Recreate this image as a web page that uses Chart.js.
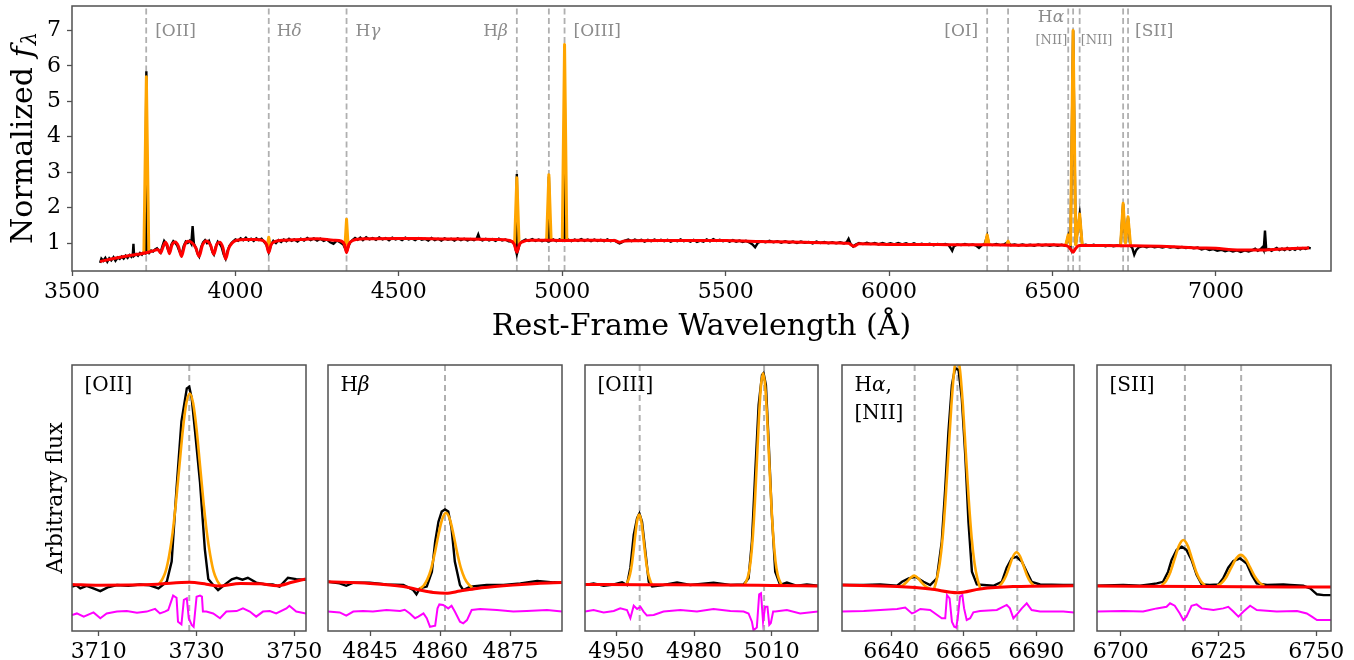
<!DOCTYPE html>
<html>
<head>
<meta charset="utf-8">
<script src="https://cdn.jsdelivr.net/npm/chart.js@4.4.0/dist/chart.umd.min.js"></script>
<style>
  body { margin: 0; background: #fff; }
  #wrap { position: relative; width: 1354px; height: 660px; overflow: hidden; }
  .box { position: absolute; }
</style>
</head>
<body>
<div id="wrap"></div>
<script>
// ---------- full spectrum (top panel) ----------
const topTicksX = [3500, 4000, 4500, 5000, 5500, 6000, 6500, 7000];
const topTicksY = [1, 2, 3, 4, 5, 6, 7];
const topLines = [3727, 4102, 4340, 4861, 4959, 5007, 6300, 6364, 6548, 6563, 6583, 6716, 6731];

const topObs = [
  [3586,0.44],[3590,0.56],[3596,0.50],[3602,0.58],[3608,0.47],[3614,0.57],[3620,0.51],[3627,0.60],[3633,0.50],[3640,0.59],
  [3646,0.55],[3652,0.62],[3658,0.56],[3664,0.64],[3670,0.58],[3676,0.66],[3682,0.61],[3686,0.68],[3688,0.98],[3690,0.64],
  [3696,0.69],[3702,0.64],[3708,0.72],[3714,0.67],[3720,0.75],[3724,0.72],[3727.5,5.85],[3731,0.80],[3736,0.72],[3742,0.79],
  [3748,0.76],[3754,0.82],[3760,0.85],[3766,0.78],[3771,0.73],[3777,0.92],[3782,1.06],[3788,0.98],[3794,0.80],[3798,0.74],
  [3804,0.95],[3810,1.05],[3816,1.00],[3822,0.93],[3828,0.78],[3835,0.66],[3842,0.92],[3848,1.04],[3854,1.00],[3860,1.06],
  [3865,0.98],[3869,1.48],[3873,0.98],[3879,0.86],[3884,0.70],[3889,0.62],[3895,0.88],[3901,1.02],[3907,1.08],[3913,1.00],
  [3919,1.06],[3925,0.90],[3930,0.74],[3934,0.68],[3940,0.90],[3946,1.04],[3952,0.98],[3958,0.88],[3964,0.68],[3970,0.56],
  [3976,0.78],[3982,0.92],[3988,1.00],[3994,1.05],[4000,1.10],[4008,1.06],[4016,1.13],[4024,1.08],[4032,1.15],[4040,1.07],
  [4048,1.12],[4056,1.06],[4064,1.13],[4072,1.08],[4080,1.12],[4088,1.03],[4095,0.95],[4102,0.74],[4109,0.95],[4116,1.06],
  [4124,1.00],[4132,1.08],[4140,1.03],[4148,1.10],[4156,1.05],[4164,1.12],[4172,1.06],[4180,1.10],[4190,1.04],[4200,1.12],
  [4210,1.07],[4220,1.14],[4230,1.08],[4240,1.13],[4250,1.07],[4260,1.12],[4270,1.06],[4280,1.10],[4290,1.02],[4300,0.98],
  [4310,1.07],[4320,1.02],[4330,0.96],[4340,0.76],[4350,1.00],[4358,1.08],[4366,1.14],[4374,1.09],[4382,1.15],[4390,1.08],
  [4400,1.16],[4410,1.10],[4420,1.14],[4430,1.09],[4440,1.16],[4450,1.10],[4460,1.14],[4470,1.08],[4480,1.15],[4490,1.10],
  [4500,1.13],[4510,1.08],[4520,1.15],[4530,1.10],[4540,1.13],[4550,1.08],[4560,1.14],[4570,1.09],[4580,1.12],[4590,1.07],
  [4600,1.14],[4610,1.08],[4620,1.12],[4630,1.07],[4640,1.13],[4650,1.09],[4660,1.12],[4670,1.07],[4680,1.13],[4690,1.08],
  [4700,1.12],[4710,1.07],[4720,1.11],[4730,1.08],[4738,1.12],[4743,1.24],[4748,1.10],[4756,1.07],[4766,1.12],[4776,1.07],
  [4786,1.11],[4796,1.06],[4806,1.12],[4816,1.07],[4826,1.10],[4836,1.05],[4846,1.04],[4854,0.96],[4858,0.80],[4861,2.95],
  [4864,0.78],[4870,0.98],[4878,1.05],[4888,1.10],[4898,1.06],[4908,1.11],[4918,1.06],[4928,1.10],[4938,1.05],[4948,1.09],
  [4955,1.05],[4959,2.88],[4963,1.06],[4972,1.10],[4982,1.05],[4992,1.10],[5000,1.06],[5004,1.09],[5007,6.55],[5010,1.08],
  [5018,1.10],[5028,1.05],[5038,1.10],[5048,1.06],[5058,1.11],[5068,1.06],[5078,1.10],[5088,1.05],[5098,1.10],[5108,1.06],
  [5118,1.09],[5128,1.05],[5138,1.10],[5148,1.05],[5158,1.08],[5168,1.02],[5175,0.99],[5182,1.02],[5192,1.07],[5202,1.10],
  [5212,1.05],[5222,1.10],[5232,1.06],[5242,1.09],[5252,1.04],[5262,1.09],[5272,1.05],[5282,1.10],[5292,1.06],[5302,1.09],
  [5312,1.05],[5322,1.09],[5332,1.04],[5342,1.08],[5352,1.05],[5362,1.10],[5372,1.05],[5382,1.08],[5392,1.04],[5402,1.09],
  [5412,1.03],[5422,1.07],[5432,1.04],[5442,1.10],[5452,1.05],[5462,1.11],[5472,1.06],[5482,1.09],[5492,1.05],[5502,1.08],
  [5512,1.04],[5522,1.08],[5532,1.04],[5542,1.07],[5552,1.03],[5562,1.06],[5572,1.02],[5582,0.96],[5590,0.88],[5598,1.00],
  [5610,1.05],[5622,1.02],[5634,1.06],[5646,1.02],[5658,1.05],[5670,1.01],[5682,1.05],[5694,1.01],[5706,1.04],[5718,1.00],
  [5730,1.04],[5742,1.01],[5754,1.03],[5766,0.99],[5778,1.04],[5790,1.00],[5802,1.03],[5814,0.99],[5826,1.02],[5838,0.99],
  [5850,1.02],[5862,0.99],[5870,1.02],[5876,1.12],[5882,0.98],[5890,0.90],[5898,0.96],[5908,1.00],[5920,0.97],[5932,1.01],
  [5944,0.97],[5956,1.00],[5968,0.96],[5980,1.00],[5992,0.96],[6004,0.99],[6016,0.96],[6028,1.00],[6040,0.96],[6052,0.99],
  [6064,0.95],[6076,0.99],[6088,0.95],[6100,0.98],[6112,0.95],[6124,0.98],[6136,0.94],[6148,0.97],[6160,0.95],[6172,0.97],
  [6182,0.94],[6188,0.86],[6193,0.78],[6198,0.90],[6208,0.96],[6220,0.94],[6232,0.97],[6244,0.94],[6256,0.96],[6266,0.93],
  [6275,0.86],[6284,0.94],[6292,0.96],[6300,1.20],[6306,0.96],[6316,0.94],[6328,0.97],[6340,0.94],[6352,0.96],[6364,1.02],
  [6372,0.94],[6384,0.96],[6396,0.93],[6408,0.96],[6420,0.93],[6432,0.95],[6444,0.92],[6456,0.96],[6468,0.93],[6480,0.95],
  [6492,0.92],[6504,0.95],[6516,0.92],[6528,0.95],[6540,0.92],[6548,1.20],[6555,0.93],[6563,7.00],[6571,0.94],[6583,1.80],
  [6591,0.93],[6602,0.95],[6614,0.92],[6626,0.95],[6638,0.92],[6650,0.94],[6662,0.91],[6674,0.94],[6686,0.91],[6698,0.93],
  [6708,0.92],[6716,2.10],[6723,1.00],[6731,1.72],[6738,0.92],[6744,0.86],[6750,0.67],[6756,0.80],[6764,0.88],[6776,0.91],
  [6788,0.88],[6800,0.91],[6812,0.88],[6824,0.90],[6836,0.87],[6848,0.90],[6860,0.87],[6872,0.89],[6884,0.86],[6896,0.89],
  [6908,0.86],[6920,0.88],[6932,0.85],[6944,0.87],[6956,0.82],[6968,0.85],[6980,0.80],[6992,0.83],[7004,0.78],[7016,0.81],
  [7028,0.77],[7040,0.80],[7052,0.76],[7064,0.79],[7076,0.75],[7088,0.79],[7100,0.76],[7112,0.80],[7120,0.84],[7128,0.78],
  [7136,0.82],[7142,0.88],[7146,0.80],[7150,1.35],[7154,0.80],[7162,0.83],[7170,0.78],[7178,0.82],[7186,0.86],[7194,0.80],
  [7202,0.84],[7210,0.80],[7218,0.86],[7226,0.81],[7234,0.85],[7242,0.81],[7250,0.86],[7258,0.82],[7266,0.86],[7274,0.83],
  [7282,0.87],[7290,0.85]
];

const topModel = [
  [3586,0.48],[3620,0.55],[3660,0.62],[3700,0.68],[3730,0.73],[3755,0.80],[3763,0.82],[3771,0.72],[3779,0.90],[3786,1.02],
  [3792,0.92],[3798,0.70],[3806,0.95],[3816,1.03],[3826,0.90],[3835,0.62],[3845,0.95],[3856,1.05],[3868,1.00],[3879,0.86],
  [3889,0.62],[3899,0.94],[3911,1.06],[3924,0.94],[3934,0.68],[3943,0.96],[3953,1.02],[3962,0.86],[3970,0.55],[3979,0.84],
  [3990,1.00],[4004,1.08],[4030,1.10],[4060,1.10],[4085,1.07],[4095,0.96],[4102,0.73],[4109,0.95],[4120,1.04],[4150,1.08],
  [4200,1.10],[4250,1.12],[4300,1.08],[4325,1.05],[4334,0.95],[4340,0.73],[4347,0.96],[4358,1.07],[4400,1.12],[4500,1.13],
  [4600,1.12],[4700,1.11],[4800,1.10],[4840,1.07],[4853,0.97],[4861,0.74],[4869,0.96],[4880,1.04],[4900,1.08],[4950,1.08],
  [5000,1.07],[5100,1.08],[5160,1.07],[5175,1.02],[5190,1.06],[5300,1.07],[5400,1.07],[5500,1.07],[5600,1.04],[5700,1.03],
  [5800,1.01],[5875,0.99],[5892,0.91],[5908,0.98],[6000,0.96],[6100,0.96],[6200,0.95],[6300,0.95],[6400,0.94],[6500,0.95],
  [6545,0.92],[6556,0.82],[6563,0.74],[6570,0.84],[6582,0.93],[6650,0.93],[6750,0.92],[6850,0.90],[6950,0.86],[7000,0.85],
  [7050,0.81],[7130,0.80],[7200,0.83],[7285,0.86]
];

const topFit = [
  [[3720,0.74],[3727.5,5.69],[3735,0.74]],
  [[4097,0.90],[4102,1.16],[4107,0.90]],
  [[4335,0.90],[4340,1.67],[4345,0.90]],
  [[4854,0.95],[4861,2.84],[4868,0.95]],
  [[4952,1.06],[4959,2.93],[4966,1.06]],
  [[5000,1.06],[5007,6.60],[5014,1.06]],
  [[6294,0.94],[6300,1.23],[6306,0.94]],
  [[6359,0.93],[6364,1.05],[6369,0.93]],
  [[6540,0.92],[6548,1.23],[6555,0.95],[6563,7.00],[6571,0.95],[6583,1.82],[6591,0.92]],
  [[6708,0.91],[6716,2.12],[6723,1.00],[6731,1.74],[6739,0.91]]
];

// ---------- zoomed panels ----------
const oiiTicks = [3710, 3730, 3750];
const oiiLines = [3728.5];
const oiiObs = [[3704.5,16.7],[3705.4,17.2],[3706.2,16.0],[3707.5,17.0],[3708.6,16.2],[3710.3,15.0],[3711.8,16.4],[3713.7,17.3],[3716.0,17.0],[3718.4,17.5],[3720.4,17.2],[3722.2,16.0],[3723.9,18.5],[3724.9,26.1],[3725.9,53.6],[3726.9,78.7],[3728.0,91.2],[3728.5,91.8],[3729.0,87.5],[3729.7,74.9],[3730.7,56.0],[3731.7,30.6],[3732.4,19.5],[3733.4,17.3],[3734.4,15.4],[3736.1,17.9],[3737.2,19.4],[3738.2,20.0],[3739.4,19.3],[3740.5,20.0],[3742.2,18.2],[3743.9,17.6],[3745.6,17.5],[3747.0,16.7],[3748.7,20.0],[3750.4,19.5],[3752.4,19.2]];
const oiiCont = [[3704.5,17.5],[3710,17.2],[3716,17.3],[3722,17.6],[3728.5,18.3],[3732,17.6],[3734.5,16.9],[3739,17.9],[3743,17.8],[3746.5,17.0],[3749.5,18.3],[3752.4,19.6]];
const oiiFit = [[[3722.3,17.6],[3723.0,19.5],[3723.7,22.6],[3724.4,28.5],[3725.1,37.0],[3725.8,48.7],[3726.5,62.4],[3727.2,75.8],[3727.9,85.6],[3728.6,89.3],[3729.3,85.6],[3730.0,75.8],[3730.7,62.4],[3731.4,48.7],[3732.1,37.0],[3732.8,28.5],[3733.5,22.3],[3734.2,19.0],[3734.9,17.0]]];
const oiiResid = [[3704.5,6.0],[3705.5,6.6],[3706.9,5.4],[3708.9,7.0],[3710.3,4.8],[3711.6,6.6],[3713.7,7.3],[3715.7,7.5],[3717.8,6.9],[3719.8,7.3],[3721.5,8.3],[3722.5,6.6],[3723.5,7.3],[3724.2,7.9],[3725.2,13.3],[3725.9,12.5],[3726.2,3.5],[3726.9,2.5],[3727.4,11.7],[3728.0,12.3],[3728.4,4.8],[3729.0,2.3],[3729.4,1.6],[3730.0,12.9],[3730.7,13.3],[3731.1,12.9],[3731.3,7.3],[3732.0,7.3],[3733.4,6.6],[3734.8,4.8],[3736.1,7.3],[3738.2,7.5],[3739.5,8.5],[3740.9,7.3],[3742.2,5.4],[3743.6,7.3],[3745.0,7.5],[3746.3,6.6],[3748.4,8.5],[3749.0,9.5],[3750.4,7.3],[3752.4,6.6]];

const hbTicks = [4845, 4860, 4875];
const hbLines = [4861];
const hbObs = [[4836.0,18.5],[4838.5,17.9],[4839.9,17.0],[4841.4,18.2],[4844.9,18.2],[4848.5,17.5],[4852.1,17.3],[4854.2,15.4],[4854.9,13.8],[4855.6,16.0],[4857.1,16.7],[4858.2,22.3],[4858.9,33.6],[4859.6,41.1],[4860.3,44.9],[4861.0,45.7],[4861.7,44.9],[4862.4,38.6],[4863.1,26.1],[4864.2,17.3],[4864.9,15.4],[4866.4,16.7],[4869.9,17.3],[4873.5,17.3],[4877.1,17.9],[4880.7,18.8],[4884.2,18.3],[4886.0,18.2]];
const hbCont = [[4836,18.5],[4844.9,17.9],[4852.1,16.7],[4855.6,15.4],[4858.5,14.5],[4861.2,14.2],[4864.2,15.0],[4867.8,16.0],[4873.5,17.0],[4880.7,17.9],[4886,18.2]];
const hbFit = [[[4855.6,15.9],[4856.4,17.0],[4857.2,19.3],[4858.0,23.2],[4858.8,29.1],[4859.6,36.2],[4860.4,42.0],[4861.2,44.4],[4862.0,42.2],[4862.8,36.4],[4863.6,29.4],[4864.4,23.6],[4865.2,19.8],[4866.0,17.6],[4866.8,16.4]]];
const hbResid = [[4836.0,7.3],[4838.5,7.0],[4839.9,5.8],[4841.4,7.3],[4843.5,7.5],[4845.6,7.3],[4848.5,7.9],[4851.4,7.5],[4852.4,8.0],[4853.5,6.6],[4854.6,4.8],[4855.3,5.4],[4856.4,6.6],[4857.1,4.8],[4857.8,1.6],[4858.9,2.0],[4859.4,8.5],[4859.8,10.0],[4860.6,9.8],[4861.7,8.5],[4862.4,9.5],[4863.1,7.3],[4864.2,3.5],[4864.9,2.9],[4865.7,4.1],[4866.7,7.9],[4868.5,8.3],[4872.1,7.9],[4875.6,7.3],[4878.5,7.5],[4882.8,7.9],[4886.0,7.3]];

const oiiiTicks = [4950, 4980, 5010];
const oiiiLines = [4959, 5007];
const oiiiObs = [[4937.9,17.3],[4941.2,17.9],[4945.1,17.0],[4949.0,17.5],[4952.2,18.3],[4954.1,17.3],[4955.4,23.8],[4956.7,36.1],[4958.0,42.4],[4958.9,44.2],[4959.9,41.1],[4961.2,29.8],[4962.5,18.5],[4963.8,16.7],[4968.2,17.3],[4973.4,18.2],[4978.5,17.3],[4987.5,18.2],[4994.0,17.3],[4999.1,17.5],[5001.0,19.8],[5002.3,33.6],[5003.6,59.9],[5004.9,85.0],[5006.2,96.2],[5006.8,96.9],[5007.7,92.5],[5008.7,72.4],[5010.0,43.6],[5011.3,22.3],[5013.2,17.3],[5015.8,18.2],[5019.7,17.0],[5023.5,17.5],[5027.8,17.0]];
const oiiiCont = [[4937.9,17.5],[4960,17.4],[4990,17.3],[5010,17.1],[5027.8,16.9]];
const oiiiFit = [
  [[4953.9,17.5],[4954.6,19.1],[4955.3,21.4],[4956.0,25.3],[4956.7,30.8],[4957.4,36.9],[4958.1,41.9],[4958.8,43.8],[4959.5,41.9],[4960.2,36.9],[4960.9,30.8],[4961.6,25.3],[4962.3,21.4],[4963.0,19.1],[4963.7,17.4]],
  [[4999.4,17.3],[5000.2,18.9],[5001.0,21.3],[5001.8,26.2],[5002.6,34.7],[5003.4,47.5],[5004.2,63.4],[5005.0,79.8],[5005.8,92.2],[5006.6,96.9],[5007.4,92.2],[5008.2,79.8],[5009.0,63.4],[5009.8,47.5],[5010.6,34.7],[5011.4,26.2],[5012.2,21.3],[5013.0,18.9],[5013.8,17.2]]
];
const oiiiResid = [[4937.9,7.3],[4941.2,7.9],[4945.1,7.0],[4949.0,7.5],[4951.5,8.5],[4954.1,7.9],[4955.4,4.8],[4956.7,9.5],[4958.0,8.3],[4959.3,9.1],[4960.5,7.3],[4961.8,5.8],[4964.4,6.0],[4968.2,7.3],[4974.7,7.9],[4981.1,7.3],[4987.5,8.3],[4994.0,7.5],[4999.1,7.3],[5001.0,6.6],[5002.3,3.5],[5002.9,0.3],[5004.2,1.3],[5005.1,13.8],[5005.8,14.2],[5006.6,3.5],[5007.4,9.1],[5008.3,9.1],[5009.0,2.3],[5009.6,3.0],[5010.5,7.3],[5011.3,7.3],[5015.8,7.9],[5020.9,6.6],[5027.8,7.3]];

const haTicks = [6640, 6665, 6690];
const haLines = [6648.05, 6662.8, 6683.45];
const haObs = [[6623.0,17.3],[6630.5,17.3],[6636.2,17.5],[6642.0,17.0],[6643.7,18.5],[6646.0,19.8],[6648.3,20.4],[6651.1,18.5],[6653.4,17.3],[6655.7,19.8],[6657.4,33.6],[6658.6,53.6],[6659.7,74.9],[6660.9,92.5],[6662.0,98.8],[6663.2,98.1],[6664.3,87.5],[6665.5,66.2],[6666.6,41.1],[6667.8,22.3],[6669.5,17.5],[6671.8,17.3],[6675.2,17.0],[6678.1,18.5],[6679.8,23.8],[6681.5,27.3],[6683.2,27.9],[6685.0,26.1],[6686.7,22.3],[6688.4,18.5],[6691.3,17.5],[6699.3,17.3],[6703.0,17.3]];
const haCont = [[6623,17.3],[6642,16.7],[6653.4,15.8],[6662.9,14.4],[6670.6,15.8],[6682,16.7],[6703,17.0]];
const haFit = [
  [[6642.5,16.6],[6644.0,17.2],[6645.3,18.4],[6646.6,19.9],[6647.9,20.8],[6649.2,19.9],[6650.5,18.2],[6651.8,16.8],[6653.2,15.9]],
  [[6654.7,15.6],[6655.7,19.6],[6656.7,25.4],[6657.7,35.1],[6658.7,49.5],[6659.7,66.9],[6660.7,84.6],[6661.7,98.0],[6662.7,103.0],[6663.7,98.0],[6664.7,84.6],[6665.7,66.9],[6666.7,49.5],[6667.7,35.1],[6668.7,25.4],[6669.7,19.6],[6670.7,16.0]],
  [[6677.2,16.8],[6678.4,18.4],[6679.6,20.9],[6680.8,24.5],[6682.0,28.1],[6683.2,29.6],[6684.4,28.1],[6685.6,24.5],[6686.8,20.9],[6688.0,18.4],[6689.2,17.0]]
];
const haResid = [[6623.0,7.3],[6630.5,7.5],[6636.2,7.9],[6642.0,8.3],[6644.8,8.8],[6647.1,6.6],[6648.0,7.0],[6650.0,8.3],[6653.4,7.9],[6655.7,6.1],[6657.4,4.8],[6658.6,4.8],[6659.2,13.5],[6660.1,12.3],[6660.9,3.5],[6661.7,1.6],[6662.4,1.3],[6662.9,4.8],[6663.7,12.9],[6664.5,13.5],[6665.1,8.5],[6666.0,4.1],[6667.2,4.8],[6668.3,7.0],[6670.6,7.5],[6676.4,7.9],[6679.8,9.8],[6680.9,8.5],[6682.1,4.8],[6683.2,6.1],[6685.0,8.5],[6686.7,10.4],[6688.4,7.9],[6691.3,7.3],[6699.3,7.3],[6703.0,7.0]];

const siiTicks = [6700, 6725, 6750];
const siiLines = [6716.4, 6730.8];
const siiObs = [[6693.9,17.0],[6700.6,17.3],[6704.9,17.0],[6707.4,17.5],[6709.2,17.9],[6710.8,18.5],[6712.1,22.3],[6713.0,26.7],[6714.3,30.5],[6715.6,31.7],[6716.8,30.5],[6718.1,26.7],[6719.4,21.1],[6720.7,17.5],[6722.8,17.3],[6725.0,17.5],[6726.2,19.8],[6727.5,23.8],[6728.8,26.3],[6730.5,27.3],[6732.2,25.4],[6733.5,21.1],[6734.8,17.9],[6737.4,17.3],[6741.6,17.5],[6743.3,17.3],[6746.7,17.0],[6748.5,16.0],[6750.2,13.8],[6751.9,13.5],[6753.8,13.5]];
const siiCont = [[6693.9,16.9],[6720,16.7],[6753.8,16.5]];
const siiFit = [
  [[6710.5,17.2],[6711.6,18.9],[6712.7,22.2],[6713.8,27.2],[6714.9,32.1],[6716.0,34.2],[6717.1,32.1],[6718.2,27.2],[6719.3,22.2],[6720.4,18.9],[6721.5,17.2]],
  [[6724.7,17.0],[6725.9,18.2],[6727.1,20.5],[6728.3,23.9],[6729.5,27.2],[6730.7,28.6],[6731.9,27.2],[6733.1,23.9],[6734.3,20.5],[6735.5,18.2],[6736.7,17.0]]
];
const siiResid = [[6693.9,7.3],[6700.6,7.5],[6705.7,7.3],[6707.4,7.9],[6709.2,8.5],[6711.7,9.1],[6712.6,10.4],[6713.8,9.5],[6715.1,6.6],[6716.0,4.1],[6716.8,5.4],[6718.1,9.5],[6719.4,10.0],[6720.7,8.5],[6723.7,7.9],[6726.2,8.5],[6727.5,9.1],[6728.8,7.3],[6730.1,5.4],[6731.4,7.3],[6733.1,9.5],[6734.8,7.9],[6739.9,7.3],[6745.1,7.5],[6747.6,6.6],[6748.9,5.4],[6750.2,4.1],[6753.8,4.1]];

// ---------- helpers ----------
Chart.defaults.font.family = '"DejaVu Serif", serif';
Chart.defaults.color = '#000';

const pts = pairs => pairs.map(([x, y]) => ({x, y}));
const gapped = segs => segs.flatMap((s, i) => (i ? [{x: s[0][0], y: null}] : []).concat(pts(s)));
const vlines = (waves, lo, hi) => waves.flatMap((w, i) => (i ? [{x: w, y: null}] : []).concat([{x: w, y: lo}, {x: w, y: hi}]));

function drawRich(ctx, text, x, y, align, size, color) {
  const parts = Array.from(text).map(c => ({t: c, it: /[\u03b1-\u03c9]/.test(c)}));
  const fontOf = p => (p.it ? 'italic ' : '') + size + 'px "DejaVu Serif"';
  ctx.save();
  ctx.fillStyle = color;
  ctx.textBaseline = 'middle';
  ctx.textAlign = 'left';
  let w = 0;
  parts.forEach(p => { ctx.font = fontOf(p); w += ctx.measureText(p.t).width; });
  let cx = align === 'right' ? x - w : (align === 'center' ? x - w / 2 : x);
  parts.forEach(p => { ctx.font = fontOf(p); ctx.fillText(p.t, cx, y); cx += ctx.measureText(p.t).width; });
  ctx.restore();
}

const frame = {
  id: 'frame',
  afterDatasetsDraw(chart) {
    const a = chart.chartArea, ctx = chart.ctx;
    ctx.save();
    ctx.strokeStyle = '#505050';
    ctx.lineWidth = 1.5;
    ctx.strokeRect(a.left, a.top, a.right - a.left, a.bottom - a.top);
    ctx.restore();
  }
};

function makeChart(parent, o) {
  const div = document.createElement('div');
  div.className = 'box';
  Object.assign(div.style, {left: o.box[0] + 'px', top: o.box[1] + 'px', width: o.box[2] + 'px', height: o.box[3] + 'px'});
  const cv = document.createElement('canvas');
  div.appendChild(cv);
  parent.appendChild(div);
  const tickGrid = {display: true, drawOnChartArea: false, drawTicks: true, tickLength: 5, tickColor: '#505050', tickWidth: 1.3};
  return new Chart(cv, {
    type: 'line',
    data: {datasets: o.datasets},
    options: {
      responsive: true,
      maintainAspectRatio: false,
      animation: false,
      events: [],
      layout: {padding: o.padding},
      elements: {point: {radius: 0}},
      plugins: {legend: {display: false}, tooltip: {enabled: false}},
      scales: {
        x: {
          type: 'linear', min: o.xMin, max: o.xMax, bounds: 'data',
          afterBuildTicks: s => { s.ticks = o.xTicks.map(v => ({value: v})); },
          afterFit: s => { s.height = o.xAxisHeight; s.paddingLeft = 0; s.paddingRight = 0; },
          grid: tickGrid,
          border: {display: false},
          ticks: {autoSkip: false, maxRotation: 0, padding: 3, color: '#000', font: {size: 22}, callback: v => String(v)},
          title: o.xTitle ? {display: true, text: o.xTitle, color: '#000', font: {size: 30}, padding: {top: 0, bottom: 0}} : {display: false}
        },
        y: {
          type: 'linear', min: o.yMin, max: o.yMax, bounds: 'data',
          afterBuildTicks: s => { s.ticks = o.yTicks.map(v => ({value: v})); },
          afterFit: s => { s.width = o.yAxisWidth; s.paddingTop = 0; s.paddingBottom = 0; },
          grid: Object.assign({}, tickGrid, {display: o.yTicks.length > 0}),
          border: {display: false},
          ticks: {display: o.yTicks.length > 0, padding: 6, color: '#000', font: {size: 22}, callback: v => String(v)},
          title: o.yTitle ? {display: true, text: o.yTitle, color: '#000', font: {size: 22}, padding: {top: 43, bottom: 0}} : {display: false}
        }
      }
    },
    plugins: [frame].concat(o.plugins || [])
  });
}

const wrap = document.getElementById('wrap');

// ---------- top panel ----------
const topYMin = 0.21, topYMax = 7.69;
const topNotes = [
  {text: '[OII]', wave: 3727, dx: 9, y: 32, align: 'left', size: 17},
  {text: 'H\u03b4', wave: 4102, dx: 8, y: 32, align: 'left', size: 17},
  {text: 'H\u03b3', wave: 4340, dx: 9, y: 32, align: 'left', size: 17},
  {text: 'H\u03b2', wave: 4861, dx: -9, y: 32, align: 'right', size: 17},
  {text: '[OIII]', wave: 5007, dx: 9, y: 32, align: 'left', size: 17},
  {text: '[OI]', wave: 6300, dx: -9, y: 32, align: 'right', size: 17},
  {text: 'H\u03b1', wave: 6563, dx: -9, y: 18, align: 'right', size: 17},
  {text: '[NII]', wave: 6548, dx: -1, y: 41, align: 'right', size: 13},
  {text: '[NII]', wave: 6583, dx: 1, y: 41, align: 'left', size: 13},
  {text: '[SII]', wave: 6731, dx: 7, y: 32, align: 'left', size: 17}
];
const topLabels = {
  id: 'topLabels',
  afterDraw(chart) {
    const ctx = chart.ctx, xs = chart.scales.x, a = chart.chartArea;
    topNotes.forEach(n => drawRich(ctx, n.text, xs.getPixelForValue(n.wave) + n.dx, n.y, n.align, n.size, '#8c8c8c'));
    ctx.save();
    ctx.translate(24, (a.top + a.bottom) / 2);
    ctx.rotate(-Math.PI / 2);
    ctx.fillStyle = '#000';
    ctx.textBaseline = 'middle';
    const fMain = '30px "DejaVu Serif"', fIt = 'italic 30px "DejaVu Serif"', fSub = 'italic 21px "DejaVu Serif"';
    ctx.font = fMain; const w1 = ctx.measureText('Normalized ').width;
    ctx.font = fIt; const w2 = ctx.measureText('f').width;
    ctx.font = fSub; const w3 = ctx.measureText('\u03bb').width;
    let x = -(w1 + w2 + w3) / 2;
    ctx.font = fMain; ctx.fillText('Normalized ', x, 0); x += w1;
    ctx.font = fIt; ctx.fillText('f', x, 0); x += w2 + 1;
    ctx.font = fSub; ctx.fillText('\u03bb', x, 7);
    ctx.restore();
  }
};

makeChart(wrap, {
  box: [0, 0, 1354, 345],
  padding: {left: 0, top: 6, right: 23, bottom: 0},
  xMin: 3500, xMax: 7352, xTicks: topTicksX, xAxisHeight: 74,
  yMin: topYMin, yMax: topYMax, yTicks: topTicksY, yAxisWidth: 72,
  xTitle: 'Rest-Frame Wavelength (\u00c5)',
  datasets: [
    {data: pts(topModel), borderColor: '#ff0000', borderWidth: 3, cubicInterpolationMode: 'monotone'},
    {data: gapped(topFit), borderColor: '#ffa500', borderWidth: 3, borderJoinStyle: 'round', spanGaps: false},
    {data: pts(topObs), borderColor: '#000000', borderWidth: 2.4},
    {data: vlines(topLines, topYMin, topYMax), borderColor: '#b0b0b0', borderWidth: 1.8, borderDash: [6, 3.5], spanGaps: false}
  ],
  plugins: [topLabels]
});

// ---------- zoom panels ----------
const panels = [
  {name: ['[OII]'], obs: oiiObs, cont: oiiCont, fit: oiiFit, resid: oiiResid, lines: oiiLines, ticks: oiiTicks, range: [3704.5, 3752.4]},
  {name: ['H\u03b2'], obs: hbObs, cont: hbCont, fit: hbFit, resid: hbResid, lines: hbLines, ticks: hbTicks, range: [4836, 4886]},
  {name: ['[OIII]'], obs: oiiiObs, cont: oiiiCont, fit: oiiiFit, resid: oiiiResid, lines: oiiiLines, ticks: oiiiTicks, range: [4937.9, 5027.8]},
  {name: ['H\u03b1,', '[NII]'], obs: haObs, cont: haCont, fit: haFit, resid: haResid, lines: haLines, ticks: haTicks, range: [6623, 6703]},
  {name: ['[SII]'], obs: siiObs, cont: siiCont, fit: siiFit, resid: siiResid, lines: siiLines, ticks: siiTicks, range: [6693.9, 6753.8]}
];
const panelLeft = [72, 328, 585, 842, 1097];
const panelRight = [306, 562, 818, 1074, 1331];

panels.forEach((p, i) => {
  const left = i === 0 ? 0 : panelLeft[i] - 24;
  const padR = i === 4 ? 23 : 24;
  const nameLabel = {
    id: 'name' + i,
    afterDraw(chart) {
      const a = chart.chartArea;
      p.name.forEach((t, k) => drawRich(chart.ctx, t, a.left + 12.5, a.top + 21 + k * 27.5, 'left', 20, '#000'));
    }
  };
  makeChart(wrap, {
    box: [left, 355, panelRight[i] + padR - left, 305],
    padding: {left: 0, top: 10, right: padR, bottom: 0},
    xMin: p.range[0], xMax: p.range[1], xTicks: p.ticks, xAxisHeight: 29,
    yMin: 0, yMax: 100, yTicks: [], yAxisWidth: panelLeft[i] - left,
    yTitle: i === 0 ? 'Arbitrary flux' : null,
    datasets: [
      {data: pts(p.cont), borderColor: '#ff0000', borderWidth: 3, cubicInterpolationMode: 'monotone'},
      {data: gapped(p.fit), borderColor: '#ffa500', borderWidth: 2.6, cubicInterpolationMode: 'monotone', spanGaps: false},
      {data: pts(p.obs), borderColor: '#000000', borderWidth: 2.4},
      {data: pts(p.resid), borderColor: '#ff00ff', borderWidth: 2},
      {data: vlines(p.lines, 0, 100), borderColor: '#b0b0b0', borderWidth: 2, borderDash: [6, 4], spanGaps: false}
    ],
    plugins: [nameLabel]
  });
});
</script>
</body>
</html>
